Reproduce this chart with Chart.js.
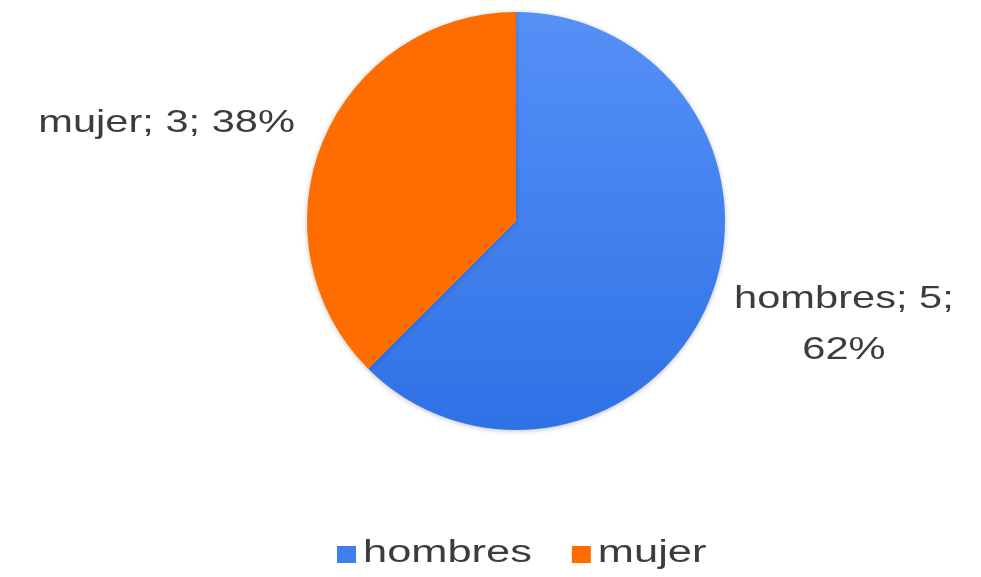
<!DOCTYPE html>
<html>
<head>
<meta charset="utf-8">
<script src="https://cdn.jsdelivr.net/npm/chart.js@4/dist/chart.umd.min.js"></script>
<style>
  html, body { margin: 0; padding: 0; background: #fff; }
  #wrap { width: 981px; height: 577px; position: relative; }
</style>
</head>
<body>
<div id="wrap"><canvas id="pieChart"></canvas></div>
<script>
// datos
const categories = ['hombres', 'mujer'];
const values = [5, 3];
const percentLabels = ['62%', '38%']; // tal como aparecen en el grafico
const colors = ['#3f7ff0', '#ff6d00'];

const TEXT_COLOR = '#3c3c3c';
const STRETCH = 1.3; // el texto original es mas ancho
const LEGEND_STRETCH = 1.4;

function stretchedText(ctx, text, x, y, align, k) {
    k = k || STRETCH;
    const w = ctx.measureText(text).width * k;
    let left = x;
    if (align === 'center') left = x - w / 2;
    if (align === 'right') left = x - w;
    ctx.save();
    ctx.translate(left, y);
    ctx.scale(k, 1);
    ctx.textAlign = 'left';
    ctx.fillText(text, 0, 0);
    ctx.restore();
    return w;
}

// sombra suave del pastel
const shadowPlugin = {
    id: 'shadowPlugin',
    beforeDatasetsDraw(chart) {
        const ctx = chart.ctx;
        ctx.save();
        ctx.shadowColor = 'rgba(0, 0, 0, 0.25)';
        ctx.shadowBlur = 5;
        ctx.shadowOffsetY = 1;
    },
    afterDatasetsDraw(chart) {
        chart.ctx.restore();
    }
};

// etiquetas "categoria; valor; %" y leyenda
const labelPlugin = {
    id: 'labelPlugin',
    afterDraw(chart) {
        const ctx = chart.ctx;
        const meta = chart.getDatasetMeta(0);
        ctx.save();
        ctx.fillStyle = TEXT_COLOR;
        ctx.textBaseline = 'middle';
        ctx.font = '32px "Liberation Sans", Arial, sans-serif';
        meta.data.forEach((arc, i) => {
            const mid = (arc.startAngle + arc.endAngle) / 2;
            const px = arc.x + Math.cos(mid) * arc.outerRadius;
            const py = arc.y + Math.sin(mid) * arc.outerRadius;
            const pct = percentLabels[i];
            if (Math.cos(mid) < 0) {
                stretchedText(ctx, categories[i] + '; ' + values[i] + '; ' + pct, px - 28, py - 18, 'right');
            } else {
                const line1 = categories[i] + '; ' + values[i] + ';';
                const w = ctx.measureText(line1).width * STRETCH;
                stretchedText(ctx, line1, px + 25, py - 2, 'left');
                stretchedText(ctx, pct, px + 25 + w / 2, py + 49, 'center');
            }
        });

        // leyenda
        ctx.font = '31px "Liberation Sans", Arial, sans-serif';
        const box = 19, gap = 7, itemGap = 40;
        let x = 337;
        const ly = 553;
        categories.forEach((c, i) => {
            ctx.fillStyle = colors[i];
            ctx.fillRect(x, ly - 7, box, 17);
            ctx.fillStyle = TEXT_COLOR;
            const w = stretchedText(ctx, c, x + box + gap, ly, 'left', LEGEND_STRETCH);
            x += box + gap + w + itemGap;
        });
        ctx.restore();
    }
};

function blueGradient(context) {
    const area = context.chart.chartArea;
    if (!area) return colors[0];
    const g = context.chart.ctx.createLinearGradient(0, area.top, 0, area.bottom);
    g.addColorStop(0, '#5590f6');
    g.addColorStop(1, '#2f72e6');
    return g;
}

new Chart(document.getElementById('pieChart'), {
    type: 'pie',
    data: {
        labels: categories,
        datasets: [{
            data: values,
            backgroundColor: function(context) {
                return context.dataIndex === 0 ? blueGradient(context) : colors[1];
            },
            borderWidth: 0
        }]
    },
    options: {
        responsive: true,
        maintainAspectRatio: false,
        animation: false,
        layout: {
            padding: { top: 12, bottom: 147, left: 307, right: 256 }
        },
        plugins: {
            legend: { display: false },
            tooltip: { enabled: false }
        }
    },
    plugins: [shadowPlugin, labelPlugin]
});
</script>
</body>
</html>
